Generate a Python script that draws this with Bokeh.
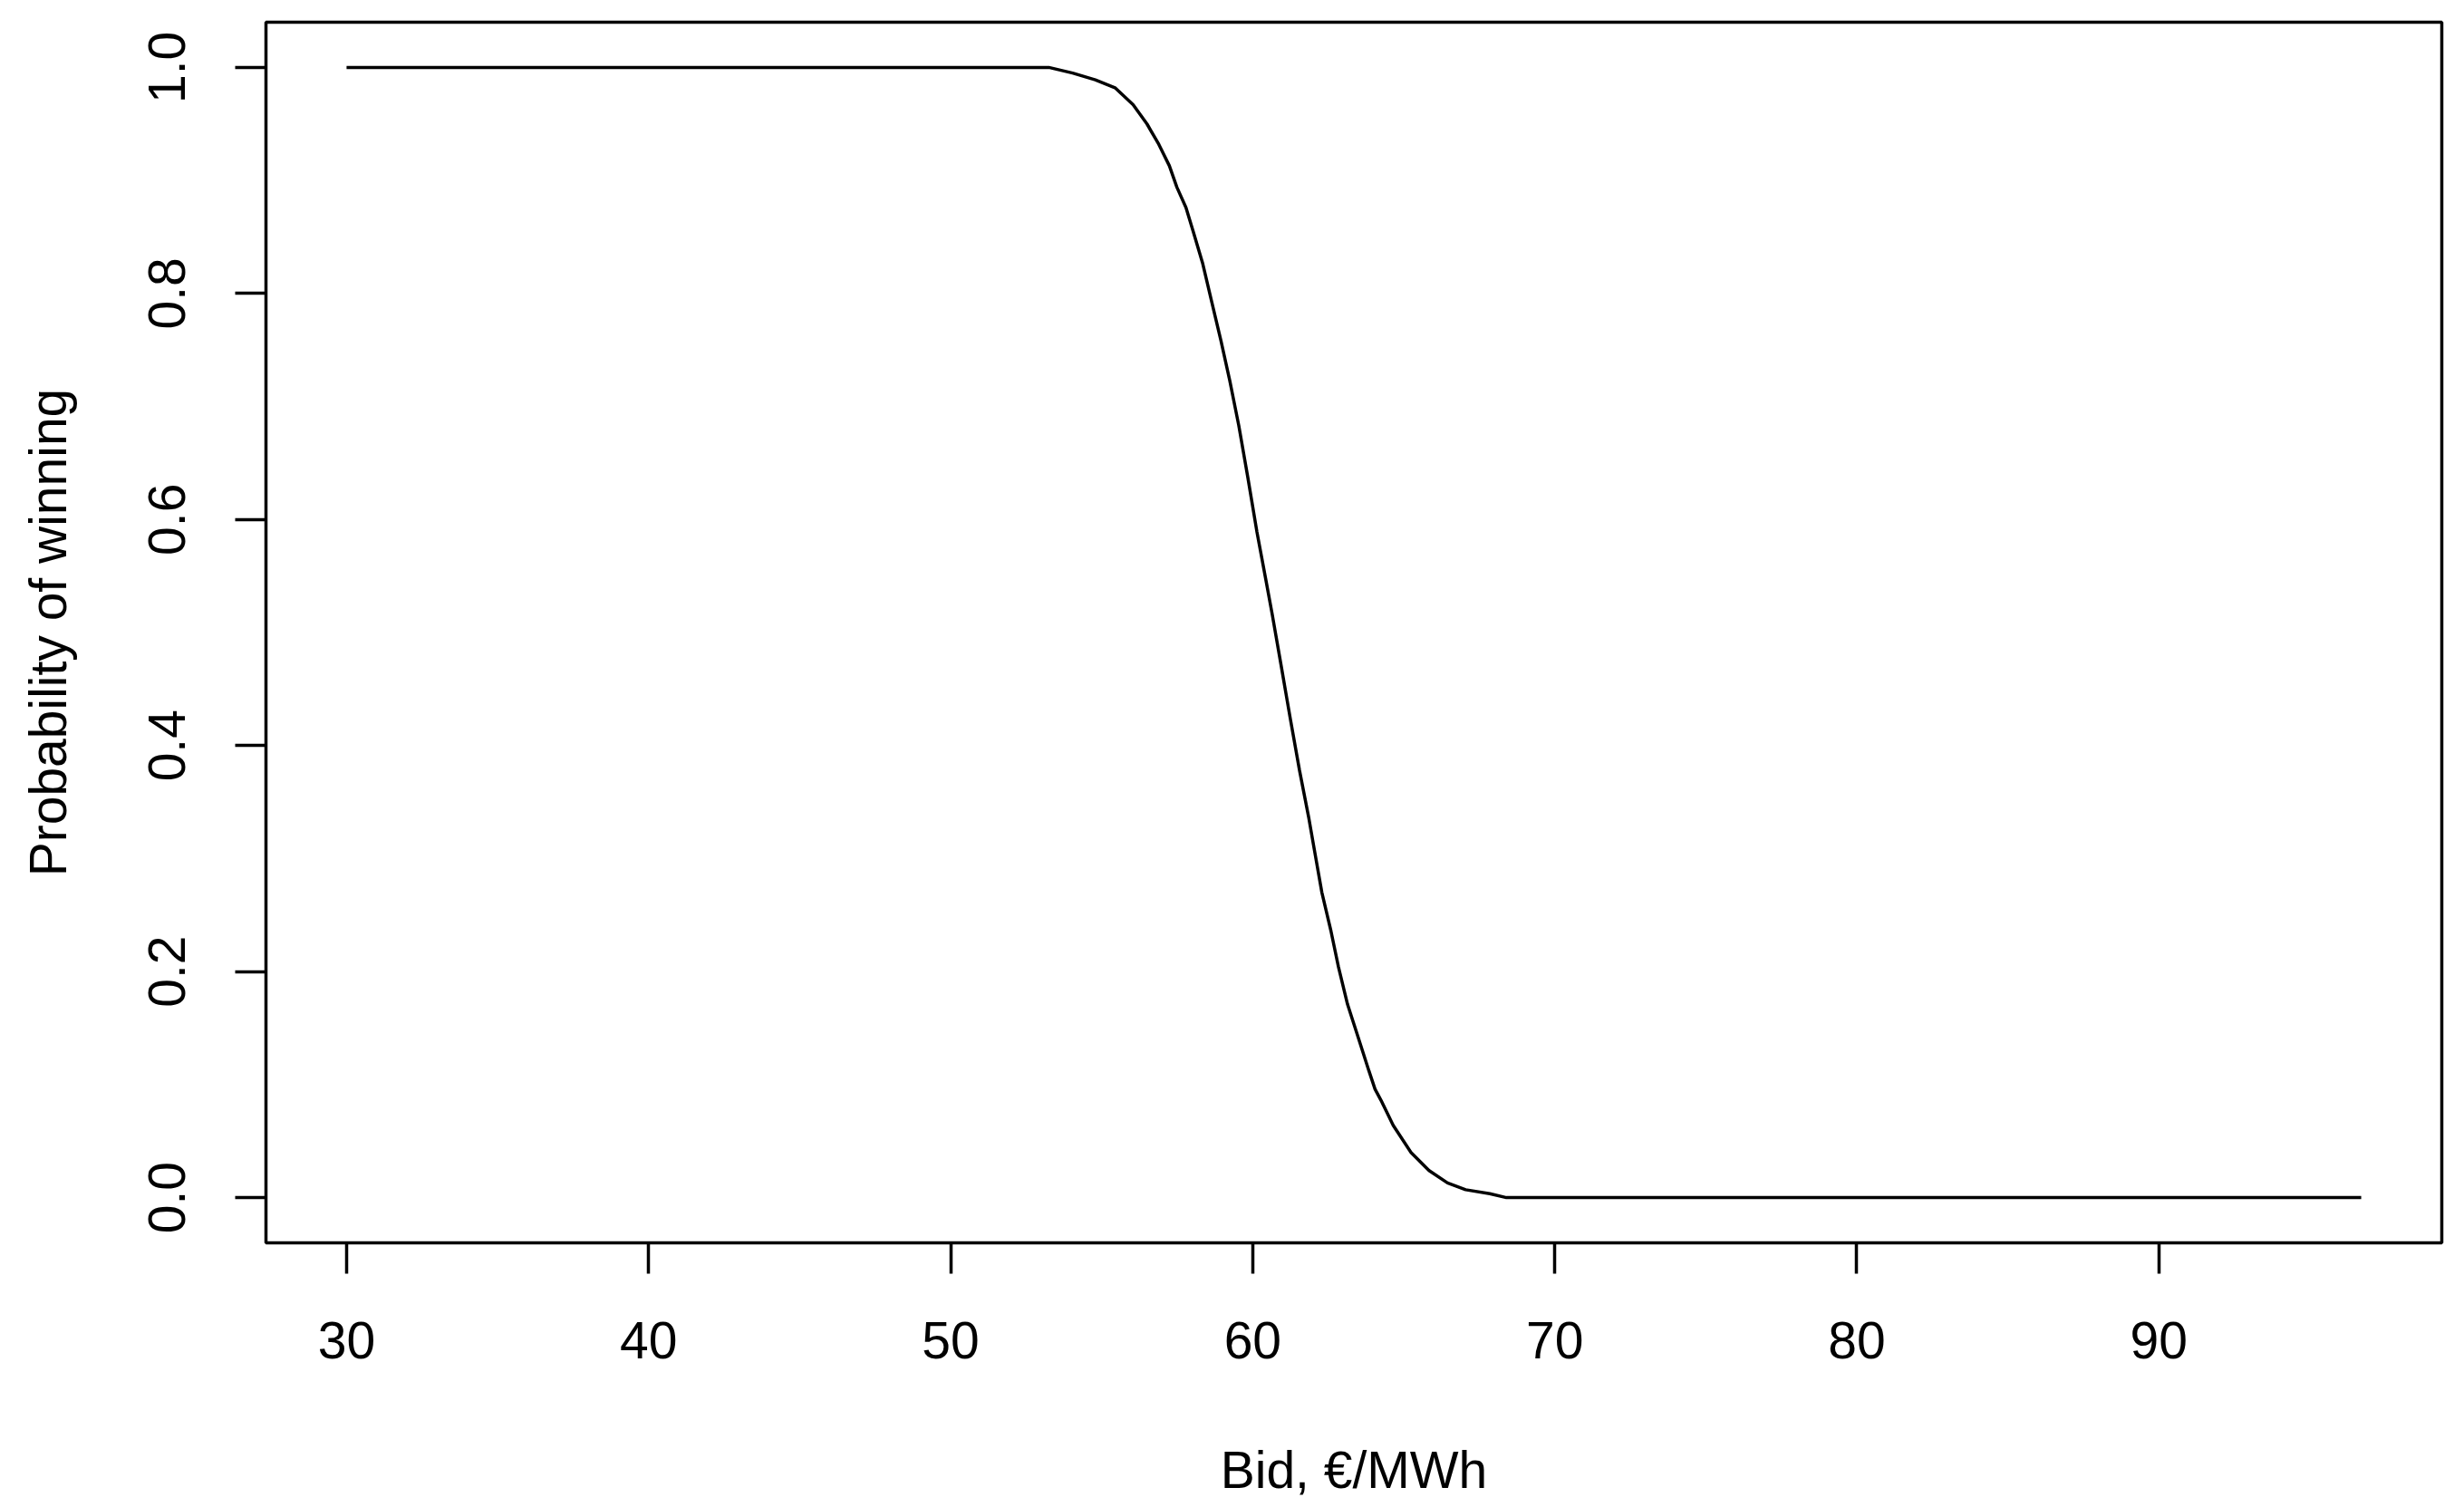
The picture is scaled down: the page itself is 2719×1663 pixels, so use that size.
from bokeh.plotting import figure
from bokeh.models import Range1d, FixedTicker
from bokeh.embed import file_html
from bokeh.resources import INLINE

# Data
bid = [30, 53.25, 54.04, 54.79, 55.44, 56.04, 56.50, 56.89, 57.24, 57.49, 57.79, 58.04,
       58.34, 58.64, 58.95, 59.24, 59.54, 59.84, 60.14, 60.44, 60.64, 60.94, 61.25,
       61.55, 61.85, 62.04, 62.29, 62.59, 62.84, 63.14, 63.49, 63.85, 64.05, 64.25,
       64.65, 65.24, 65.84, 66.45, 67.05, 67.85, 68.40, 96.7]
prob = [1.0, 1.0, 0.995, 0.989, 0.982, 0.967, 0.950, 0.932, 0.913, 0.894, 0.876, 0.854,
        0.827, 0.793, 0.758, 0.723, 0.683, 0.637, 0.589, 0.546, 0.517, 0.471, 0.423,
        0.378, 0.337, 0.308, 0.270, 0.236, 0.204, 0.171, 0.142, 0.112, 0.096, 0.086,
        0.064, 0.040, 0.024, 0.013, 0.007, 0.0035, 0.0, 0.0]

x_ticks = [30, 40, 50, 60, 70, 80, 90]
x_tick_labels = ["30", "40", "50", "60", "70", "80", "90"]
y_ticks = [0.0, 0.2, 0.4, 0.6, 0.8, 1.0]
y_tick_labels = ["0.0", "0.2", "0.4", "0.6", "0.8", "1.0"]

x_title = "Bid, €/MWh"
y_title = "Probability of winning"

FONT = "Liberation Sans"
FS = "57px"

# R-style 4% range expansion
xspan = max(bid) - min(bid)
yspan = max(prob) - min(prob)
xr = Range1d(min(bid) - 0.04 * xspan, max(bid) + 0.04 * xspan)
yr = Range1d(min(prob) - 0.04 * yspan, max(prob) + 0.04 * yspan)

p = figure(frame_width=2401, frame_height=1347, x_range=xr, y_range=yr,
           output_backend="svg", toolbar_location=None,
           min_border_left=293, min_border_top=24, min_border_right=17,
           min_border_bottom=284)

p.background_fill_color = "white"
p.border_fill_color = "white"
p.outline_line_color = "black"
p.outline_line_width = 3.5
p.xgrid.visible = False
p.ygrid.visible = False

p.line(bid, prob, line_color="black", line_width=3.5)

for ax, ticks, labels in ((p.xaxis[0], x_ticks, x_tick_labels),
                          (p.yaxis[0], y_ticks, y_tick_labels)):
    ax.ticker = FixedTicker(ticks=ticks)
    ax.major_label_overrides = {t: l for t, l in zip(ticks, labels)}
    ax.axis_line_color = None
    ax.major_tick_line_color = "black"
    ax.major_tick_line_width = 3.5
    ax.major_tick_out = 34
    ax.major_tick_in = 0
    ax.minor_tick_line_color = None
    ax.major_label_text_font = FONT
    ax.major_label_text_font_size = FS
    ax.major_label_text_color = "black"
    ax.axis_label_text_font = FONT
    ax.axis_label_text_font_size = FS
    ax.axis_label_text_font_style = "normal"
    ax.axis_label_text_color = "black"

p.xaxis[0].axis_label = x_title
p.yaxis[0].axis_label = y_title
p.yaxis[0].major_label_orientation = "vertical"

p.xaxis[0].major_label_standoff = 53
p.xaxis[0].axis_label_standoff = 88
p.yaxis[0].major_label_standoff = 55
p.yaxis[0].axis_label_standoff = 77

open("out.html", "w").write(file_html(p, INLINE))
